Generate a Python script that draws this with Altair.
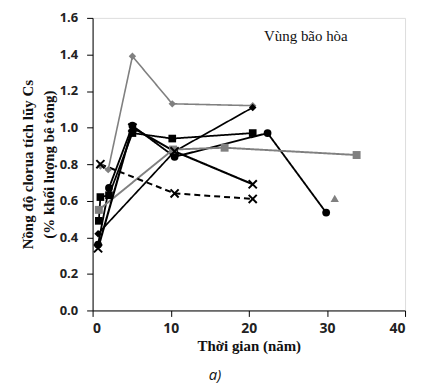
import altair as alt
import pandas as pd

# ---- data ----
series = ["gd", "bd", "bs", "bc", "gs", "xd", "xs", "gt"]
xs = {
    "gd": [1.0, 2.0, 5.1, 10.2, 20.5],
    "bd": [0.7, 10.5, 20.5],
    "bs": [0.8, 1.0, 2.1, 5.1, 10.2, 20.5],
    "bc": [0.7, 2.1, 5.1, 10.5, 22.4, 29.9],
    "gs": [0.8, 10.3, 16.9, 33.8],
    "xd": [1.0, 10.5, 20.5],
    "xs": [0.7, 5.1, 10.5, 20.5],
    "gt": [31.0],
}
ys = {
    "gd": [0.79, 0.77, 1.39, 1.13, 1.12],
    "bd": [0.42, 0.87, 1.11],
    "bs": [0.49, 0.62, 0.63, 0.97, 0.94, 0.97],
    "bc": [0.36, 0.67, 1.01, 0.84, 0.97, 0.535],
    "gs": [0.55, 0.88, 0.89, 0.85],
    "xd": [0.80, 0.64, 0.61],
    "xs": [0.34, 1.00, 0.87, 0.69],
    "gt": [0.613],
}
colors = {"gd": "#808080", "bd": "#000000", "bs": "#000000", "bc": "#000000",
          "gs": "#808080", "xd": "#000000", "xs": "#000000", "gt": "#808080"}
shapes = {"gd": "diamond", "bd": "diamond", "bs": "square", "bc": "circle",
          "gs": "square", "xd": "M-1,-1L1,1M1,-1L-1,1", "xs": "M-1,-1L1,1M1,-1L-1,1",
          "gt": "triangle-up"}
dashes = {"gd": [1, 0], "bd": [1, 0], "bs": [1, 0], "bc": [1, 0],
          "gs": [1, 0], "xd": [6, 4], "xs": [1, 0], "gt": [1, 0]}
widths = {"gd": 1.6, "bd": 2.2, "bs": 2.2, "bc": 2.2, "gs": 1.6, "xd": 2.0, "xs": 1.4, "gt": 1.5}
sizes = {"gd": 55, "bd": 70, "bs": 60, "bc": 110, "gs": 60, "xd": 36, "xs": 36, "gt": 60}

rows = []
for s in series:
    for i, (x, y) in enumerate(zip(xs[s], ys[s])):
        rows.append({"s": s, "x": x, "y": y, "o": i})
df = pd.DataFrame(rows)

xsc = alt.Scale(domain=[0, 40], nice=False, zero=False)
ysc = alt.Scale(domain=[0, 1.6], nice=False)
col = alt.Color("s:N", scale=alt.Scale(domain=series, range=[colors[s] for s in series]), legend=None)
shp = alt.Shape("s:N", scale=alt.Scale(domain=series, range=[shapes[s] for s in series]), legend=None)
dsh = alt.StrokeDash("s:N", scale=alt.Scale(domain=series, range=[dashes[s] for s in series]), legend=None)
swd = alt.StrokeWidth("s:N", scale=alt.Scale(domain=series, range=[widths[s] for s in series]), legend=None)
siz = alt.Size("s:N", scale=alt.Scale(domain=series, range=[sizes[s] for s in series]), legend=None)

X = alt.X("x:Q", scale=xsc, axis=alt.Axis(values=[0, 10, 20, 30, 40], title="Thời gian (năm)",
                                          titleFont="Liberation Serif", titleFontSize=15, titleFontWeight="bold",
                                          labelFont="Open Sans", labelFontSize=14, labelFontWeight="bold",
                                          labelColor="#222", titleColor="#111", titlePadding=3,
                                          labelOverlap=False, labelPadding=5,
                                          tickSize=6, domainColor="#000", tickColor="#000", grid=False))
Y = alt.Y("y:Q", scale=ysc, axis=alt.Axis(values=[0, 0.2, 0.4, 0.6, 0.8, 1.0, 1.2, 1.4, 1.6], format=".1f",
                                          title=["Nồng độ clorua tích lũy Cs", "(% khối lượng bê tông)"],
                                          titleFont="Liberation Serif", titleFontSize=15, titleFontWeight="bold",
                                          titleLineHeight=21,
                                          labelFont="Open Sans", labelFontSize=13, labelFontWeight="bold",
                                          labelColor="#222", titleColor="#111", titlePadding=3,
                                          labelOverlap=False, labelFlush=False, labelPadding=9,
                                          tickSize=6, domainColor="#000", tickColor="#000", grid=False))

lines = alt.Chart(df).mark_line().encode(x=X, y=Y, color=col, strokeDash=dsh, strokeWidth=swd,
                                        detail="s:N", order="o:Q")
filled = alt.Chart(df[~df.s.isin(["xd", "xs"])]).mark_point(filled=True, opacity=1).encode(
    x=X, y=Y, color=col, shape=shp, size=siz)
crosses = alt.Chart(df[df.s.isin(["xd", "xs"])]).mark_point(filled=False, opacity=1, strokeWidth=2).encode(
    x=X, y=Y, color=col, shape=shp, size=siz)

label_df = pd.DataFrame({"x": [27.3], "y": [1.5], "t": ["Vùng bão hòa"]})
label = alt.Chart(label_df).mark_text(font="Liberation Serif", fontSize=15, color="#111").encode(
    x=X, y=Y, text="t:N")

chart = alt.layer(lines, filled, crosses, label).properties(
    width=314, height=294,
    autosize=alt.AutoSizeParams(type="none"),
    padding={"left": 85, "top": 9, "right": 10, "bottom": 74},
    title=alt.TitleParams("a)", orient="bottom", font="Open Sans", fontStyle="italic",
                          fontSize=15, fontWeight="normal", dx=-34, offset=15, color="#111"),
).configure_view(stroke="#000", strokeWidth=1.2).configure(background="white")

chart.save("out.html", embed_options={"renderer": "svg", "actions": False})
